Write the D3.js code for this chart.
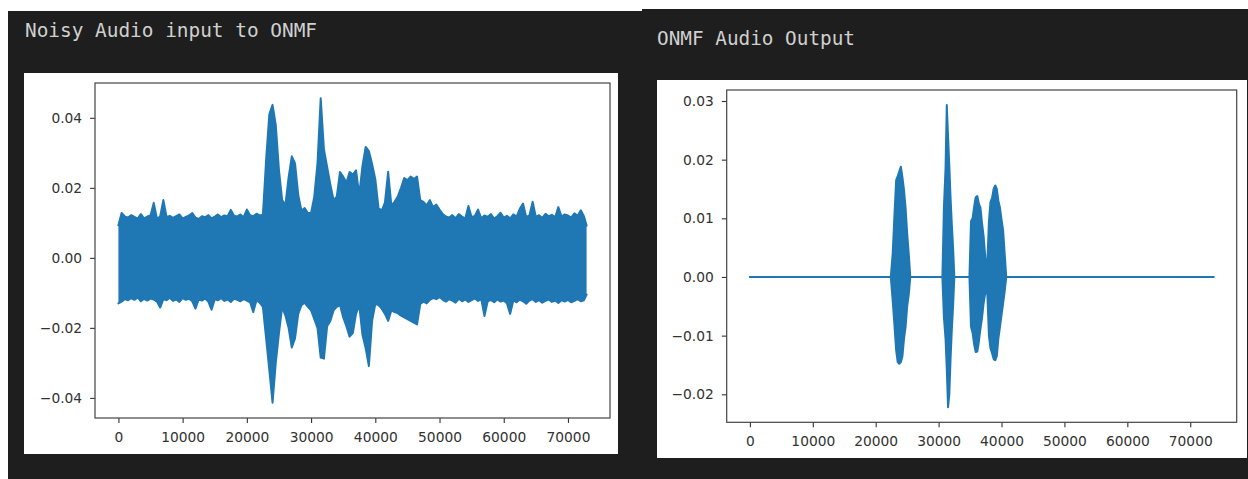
<!DOCTYPE html>
<html>
<head>
<meta charset="utf-8">
<script src="https://cdn.jsdelivr.net/npm/d3@7"></script>
<style>
  html, body { margin: 0; padding: 0; background: #ffffff; }
  svg { display: block; }
</style>
</head>
<body>
<svg id="chart" width="1248" height="479"></svg>
<script>
// ---------------- DATA ----------------
const titles = ["Noisy Audio input to ONMF", "ONMF Audio Output"];

// Noisy input: envelope sampled every 500 samples, last point is the final sample
const noisyStep = 500;
const noisyLastSample = 72900;
const noisyUpper = [
  0.0093,0.0128,0.0118,0.0115,0.0122,0.0117,0.0112,0.0125,0.0113,0.0118,
  0.0121,0.0157,0.0112,0.0118,0.0165,0.0116,0.0120,0.0114,0.0119,0.0124,
  0.0112,0.0117,0.0121,0.0128,0.0115,0.0111,0.0119,0.0116,0.0122,0.0113,
  0.0118,0.0124,0.0116,0.0121,0.0119,0.0137,0.0120,0.0118,0.0124,0.0116,
  0.0138,0.0122,0.0119,0.0126,0.0121,0.0123,0.0280,0.0410,0.0437,0.0380,
  0.0250,0.0165,0.0150,0.0230,0.0290,0.0270,0.0180,0.0135,0.0142,0.0128,
  0.0128,0.0175,0.0270,0.0456,0.0310,0.0260,0.0210,0.0165,0.0175,0.0245,
  0.0232,0.0215,0.0245,0.0238,0.0250,0.0180,0.0262,0.0317,0.0305,0.0268,
  0.0225,0.0142,0.0135,0.0158,0.0246,0.0150,0.0160,0.0175,0.0200,0.0228,
  0.0222,0.0232,0.0225,0.0232,0.0165,0.0160,0.0150,0.0165,0.0145,0.0152,
  0.0138,0.0125,0.0118,0.0115,0.0122,0.0113,0.0125,0.0118,0.0112,0.0148,
  0.0116,0.0120,0.0138,0.0113,0.0121,0.0117,0.0125,0.0112,0.0119,0.0129,
  0.0115,0.0120,0.0113,0.0124,0.0118,0.0140,0.0155,0.0116,0.0121,0.0160,
  0.0117,0.0122,0.0114,0.0126,0.0119,0.0123,0.0116,0.0145,0.0118,0.0124,
  0.0121,0.0115,0.0127,0.0120,0.0136,0.0118,0.0092
];
const noisyLower = [
  -0.0130,-0.0125,-0.0118,-0.0121,-0.0115,-0.0120,-0.0113,-0.0124,-0.0117,-0.0122,
  -0.0116,-0.0119,-0.0125,-0.0142,-0.0118,-0.0121,-0.0114,-0.0123,-0.0119,-0.0126,
  -0.0115,-0.0120,-0.0117,-0.0124,-0.0145,-0.0119,-0.0122,-0.0116,-0.0125,-0.0148,
  -0.0118,-0.0121,-0.0115,-0.0123,-0.0119,-0.0126,-0.0117,-0.0120,-0.0124,-0.0118,
  -0.0122,-0.0127,-0.0155,-0.0121,-0.0128,-0.0140,-0.0230,-0.0320,-0.0414,-0.0300,
  -0.0215,-0.0140,-0.0165,-0.0200,-0.0256,-0.0230,-0.0160,-0.0135,-0.0128,-0.0140,
  -0.0150,-0.0175,-0.0200,-0.0285,-0.0288,-0.0195,-0.0180,-0.0150,-0.0140,-0.0135,
  -0.0170,-0.0195,-0.0225,-0.0215,-0.0160,-0.0135,-0.0220,-0.0258,-0.0309,-0.0180,
  -0.0132,-0.0135,-0.0145,-0.0160,-0.0180,-0.0150,-0.0155,-0.0158,-0.0165,-0.0170,
  -0.0175,-0.0180,-0.0185,-0.0190,-0.0132,-0.0125,-0.0130,-0.0120,-0.0115,-0.0118,
  -0.0112,-0.0120,-0.0125,-0.0118,-0.0122,-0.0128,-0.0117,-0.0124,-0.0119,-0.0126,
  -0.0121,-0.0116,-0.0123,-0.0118,-0.0166,-0.0124,-0.0120,-0.0127,-0.0119,-0.0125,
  -0.0122,-0.0130,-0.0160,-0.0121,-0.0127,-0.0119,-0.0124,-0.0131,-0.0122,-0.0118,
  -0.0126,-0.0121,-0.0128,-0.0123,-0.0119,-0.0126,-0.0122,-0.0129,-0.0121,-0.0125,
  -0.0120,-0.0127,-0.0123,-0.0118,-0.0124,-0.0121,-0.0105
];

// ONMF output: envelope at irregular sample positions
const outSamples = [
  0, 22400, 22700, 23000, 23250, 23500, 23750, 24000, 24250, 24500, 24750, 25000, 25250, 25500,
  30600, 30850, 31100, 31300, 31500, 31700, 31900, 32100, 32300, 32500,
  34900, 35150, 35400, 35650, 35900, 36150, 36400, 36650, 36900, 37150, 37450,
  37750, 38000, 38250, 38500, 38750, 39000, 39250, 39500, 39750, 40000, 40250, 40500, 40750,
  73700
];
const outUpper = [
  0, 0, 0.0040, 0.0110, 0.0165, 0.0172, 0.0180, 0.0188, 0.0170, 0.0148, 0.0118, 0.0075, 0.0040, 0,
  0, 0.0120, 0.0185, 0.0293, 0.0240, 0.0190, 0.0135, 0.0090, 0.0050, 0,
  0, 0.0095, 0.0100, 0.0120, 0.0136, 0.0138, 0.0125, 0.0118, 0.0092, 0.0070, 0.0030,
  0.0025, 0.0095, 0.0128, 0.0135, 0.0150, 0.0156, 0.0150, 0.0130, 0.0118, 0.0098, 0.0080, 0.0040, 0,
  0
];
const outLower = [
  0, 0, -0.0040, -0.0085, -0.0125, -0.0145, -0.0148, -0.0145, -0.0135, -0.0105, -0.0085, -0.0050, -0.0030, 0,
  0, -0.0070, -0.0105, -0.0157, -0.0222, -0.0200, -0.0140, -0.0090, -0.0050, 0,
  0, -0.0085, -0.0095, -0.0115, -0.0128, -0.0127, -0.0110, -0.0088, -0.0070, -0.0045, -0.0025,
  -0.0030, -0.0100, -0.0122, -0.0130, -0.0140, -0.0142, -0.0135, -0.0105, -0.0085, -0.0065, -0.0045, -0.0025, 0,
  0
];

const xTicksLeft  = [0, 10000, 20000, 30000, 40000, 50000, 60000, 70000];
const xTicksRight = [0, 10000, 20000, 30000, 40000, 50000, 60000, 70000];
const yTicksLeft  = [0.04, 0.02, 0.00, -0.02, -0.04];
const yTicksRight = [0.03, 0.02, 0.01, 0.00, -0.01, -0.02];

// ---------------- DRAW ----------------
const svg = d3.select("#chart");
const BLUE = "#1f77b4";

// dark panels
svg.append("rect").attr("x", 8).attr("y", 11).attr("width", 634).attr("height", 479).attr("fill", "#1e1e1e");
svg.append("rect").attr("x", 642).attr("y", 9).attr("width", 606).attr("height", 479).attr("fill", "#1e1e1e");

function titleText(txt, x, y, len) {
  svg.append("text").attr("x", x).attr("y", y)
    .attr("font-family", "'DejaVu Sans Mono', 'Liberation Mono', monospace")
    .attr("font-size", 19).attr("fill", "#d0d0d0")
    .attr("textLength", len).attr("lengthAdjust", "spacingAndGlyphs")
    .text(txt);
}
titleText(titles[0], 25, 37, 292);
titleText(titles[1], 657, 45, 198);

function margins(lo, hi) { const m = (hi - lo) * 0.05; return [lo - m, hi + m]; }

function panel(cfg) {
  // white figure background
  svg.append("rect").attr("x", cfg.fig[0]).attr("y", cfg.fig[1])
    .attr("width", cfg.fig[2] - cfg.fig[0]).attr("height", cfg.fig[3] - cfg.fig[1])
    .attr("fill", "#ffffff");

  const [L, T, R, B] = cfg.ax;
  const x = d3.scaleLinear().domain(margins(d3.min(cfg.xs), d3.max(cfg.xs))).range([L, R]);
  const y = d3.scaleLinear().domain(margins(d3.min(cfg.lo), d3.max(cfg.hi))).range([B, T]);

  const g = svg.append("g");
  const clipId = "clip" + cfg.id;
  svg.append("clipPath").attr("id", clipId).append("rect")
    .attr("x", L).attr("y", T).attr("width", R - L).attr("height", B - T);

  const pts = cfg.xs.map((s, i) => ({ s, hi: cfg.hi[i], lo: cfg.lo[i] }));
  const curve = cfg.curve;
  const area = d3.area().x(d => x(d.s)).y0(d => y(d.lo)).y1(d => y(d.hi)).curve(curve);
  const plot = g.append("g").attr("clip-path", `url(#${clipId})`);
  plot.append("path").datum(pts).attr("d", area).attr("fill", BLUE);
  const lineHi = d3.line().x(d => x(d.s)).y(d => y(d.hi)).curve(curve);
  const lineLo = d3.line().x(d => x(d.s)).y(d => y(d.lo)).curve(curve);
  [lineHi, lineLo].forEach(ln => {
    plot.append("path").datum(pts).attr("d", ln).attr("fill", "none")
      .attr("stroke", BLUE).attr("stroke-width", 2).attr("stroke-linejoin", "round").attr("stroke-linecap", "round");
  });
  if (cfg.zeroLine) {
    const ext = d3.extent(cfg.xs);
    plot.append("path").datum(ext).attr("d", d3.line().x(d => x(d)).y(() => y(0)))
      .attr("stroke", BLUE).attr("stroke-width", 2).attr("fill", "none");
  }

  // axes
  const xAxis = d3.axisBottom(x).tickValues(cfg.xTicks).tickFormat(d3.format("d"))
    .tickSize(4.9).tickPadding(9);
  const fmtY = v => (v < 0 ? "\u2212" : "") + Math.abs(v).toFixed(2);
  const yAxis = d3.axisLeft(y).tickValues(cfg.yTicks).tickFormat(fmtY)
    .tickSize(4.9).tickPadding(8);
  const gx = g.append("g").attr("transform", `translate(0,${B})`).call(xAxis);
  const gy = g.append("g").attr("transform", `translate(${L},0)`).call(yAxis);
  [gx, gy].forEach(a => {
    a.select(".domain").remove();
    a.selectAll(".tick line").attr("stroke", "#333").attr("stroke-width", 1.1);
    a.selectAll(".tick text").attr("fill", "#333")
      .attr("font-family", "'DejaVu Sans', sans-serif").attr("font-size", 13.8);
  });

  // frame
  g.append("rect").attr("x", L).attr("y", T).attr("width", R - L).attr("height", B - T)
    .attr("fill", "none").attr("stroke", "#444").attr("stroke-width", 1.2);
}

const noisyXs = noisyUpper.map((_, i) => i < noisyUpper.length - 1 ? i * noisyStep : noisyLastSample);

panel({
  id: "L", fig: [24, 73, 618, 454], ax: [95, 83, 610, 418],
  xs: noisyXs, hi: noisyUpper, lo: noisyLower, curve: d3.curveLinear,
  xTicks: xTicksLeft, yTicks: yTicksLeft, zeroLine: false
});
panel({
  id: "R", fig: [657, 80, 1247, 458], ax: [726.7, 90, 1236.7, 422.3],
  xs: outSamples, hi: outUpper, lo: outLower, curve: d3.curveLinear,
  xTicks: xTicksRight, yTicks: yTicksRight, zeroLine: true
});
</script>
</body>
</html>
